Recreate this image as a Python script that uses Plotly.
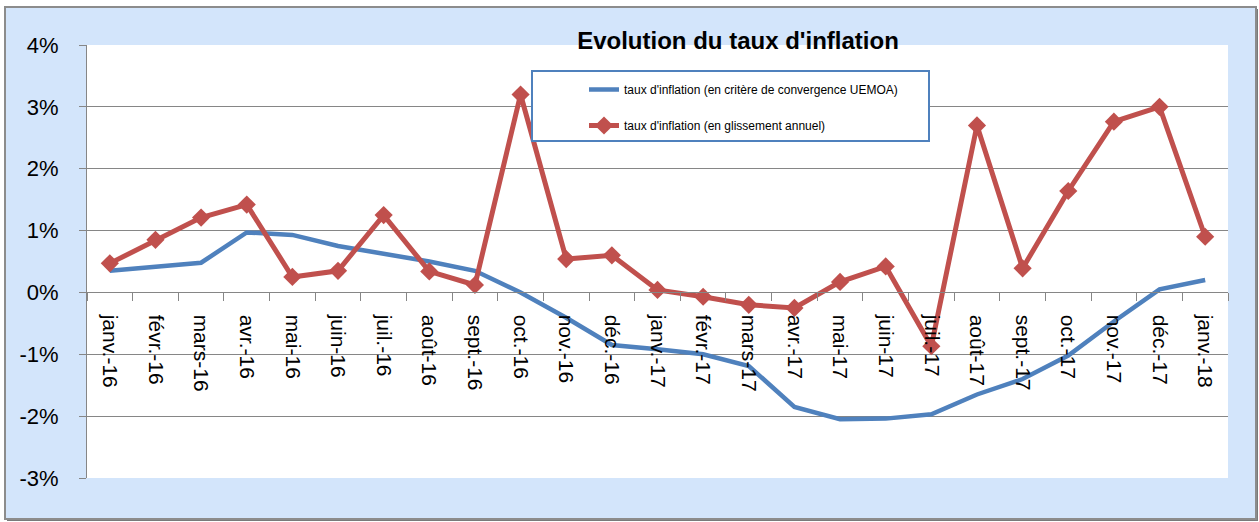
import plotly.graph_objects as go

categories = ["janv.-16", "févr.-16", "mars-16", "avr.-16", "mai-16", "juin-16",
              "juil.-16", "août-16", "sept.-16", "oct.-16", "nov.-16", "déc.-16",
              "janv.-17", "févr.-17", "mars-17", "avr.-17", "mai-17", "juin-17",
              "juil.-17", "août-17", "sept.-17", "oct.-17", "nov.-17", "déc.-17",
              "janv.-18"]

uemoa = [0.35, 0.41, 0.48, 0.97, 0.93, 0.75, 0.62, 0.50, 0.35, 0.00, -0.41, -0.85,
         -0.92, -1.00, -1.19, -1.85, -2.05, -2.04, -1.97, -1.65, -1.40, -1.02,
         -0.47, 0.05, 0.20]

glissement = [0.47, 0.85, 1.21, 1.42, 0.25, 0.35, 1.25, 0.34, 0.12, 3.20, 0.54, 0.60,
              0.04, -0.07, -0.20, -0.25, 0.17, 0.42, -0.87, 2.70, 0.39, 1.64, 2.76,
              3.00, 0.90]

ytick_vals = [-3, -2, -1, 0, 1, 2, 3, 4]
ytick_text = ["-3%", "-2%", "-1%", "0%", "1%", "2%", "3%", "4%"]

name_uemoa = "taux d'inflation (en critère de convergence UEMOA)"
name_gliss = "taux d'inflation (en glissement annuel)"
title_text = "Evolution du taux d'inflation"

W, H = 1259, 522
L, R, T, B = 87, 1228, 45, 478


def px_x(p):
    return (p - L) / (R - L)


def px_y(p):
    return (B - p) / (B - T)


BLUE = "#4F81BD"
RED = "#C0504D"
GRID = "#868686"
FONT = "Liberation Sans"

fig = go.Figure()
fig.add_trace(go.Scatter(x=categories, y=uemoa, name=name_uemoa, mode="lines",
                         line=dict(color=BLUE, width=4.5), legendgroup="a"))
fig.add_trace(go.Scatter(x=categories, y=glissement, name=name_gliss, mode="lines+markers",
                         line=dict(color=RED, width=5),
                         marker=dict(symbol="diamond", size=14, color=RED),
                         legendgroup="b"))

shapes = [
    # shadow
    dict(type="rect", xref="paper", yref="paper", x0=px_x(7), x1=px_x(1258),
         y0=px_y(521), y1=px_y(9), fillcolor="#7a7a7a", line=dict(width=0), layer="below"),
    # outer chart area
    dict(type="rect", xref="paper", yref="paper", x0=px_x(5), x1=px_x(1256),
         y0=px_y(519), y1=px_y(7), fillcolor="#D3E5FB", line=dict(color="#8c8c8c", width=2),
         layer="below"),
    # plot area
    dict(type="rect", xref="paper", yref="paper", x0=0, x1=1, y0=0, y1=1,
         fillcolor="white", line=dict(width=0), layer="below"),
    # legend box
    dict(type="rect", xref="paper", yref="paper", x0=px_x(532), x1=px_x(929),
         y0=px_y(141), y1=px_y(71), fillcolor="white", line=dict(color=BLUE, width=2),
         layer="above"),
]

fig.update_layout(
    width=W, height=H,
    margin=dict(l=L, r=W - R, t=T, b=H - B, autoexpand=False),
    paper_bgcolor="white", plot_bgcolor="white",
    shapes=shapes,
    hovermode=False,
    title=dict(text=title_text, xref="container", yref="container",
               x=738 / W, y=1 - 40.5 / H, xanchor="center", yanchor="middle",
               font=dict(family=FONT, size=24, color="black", weight="bold")),
    legend=dict(x=px_x(584), y=px_y(75), xanchor="left", yanchor="top",
                bgcolor="rgba(0,0,0,0)", borderwidth=0,
                font=dict(family=FONT, size=12, color="black"),
                traceorder="grouped", tracegroupgap=17),
    xaxis=dict(type="category", anchor="free", position=3 / 7,
               range=[-0.5, len(categories) - 0.5],
               showline=True, linecolor=GRID, linewidth=1,
               ticks="outside", ticklen=8, tickcolor=GRID, tickson="boundaries",
               tickangle=90, ticklabelstandoff=17,
               tickfont=dict(family=FONT, size=21, color="black"),
               showgrid=False, automargin=False, fixedrange=True),
    yaxis=dict(range=[-3, 4], tickvals=ytick_vals, ticktext=ytick_text,
               showline=True, linecolor=GRID, linewidth=1,
               ticks="outside", ticklen=7, tickcolor=GRID, ticklabelstandoff=16,
               tickfont=dict(family=FONT, size=22, color="black"),
               showgrid=True, gridcolor=GRID, gridwidth=1, zeroline=False,
               automargin=False, fixedrange=True),
)

fig.write_html("out.html", config={"displayModeBar": False},
               post_script="document.body.style.margin='0';document.body.style.padding='0';")
